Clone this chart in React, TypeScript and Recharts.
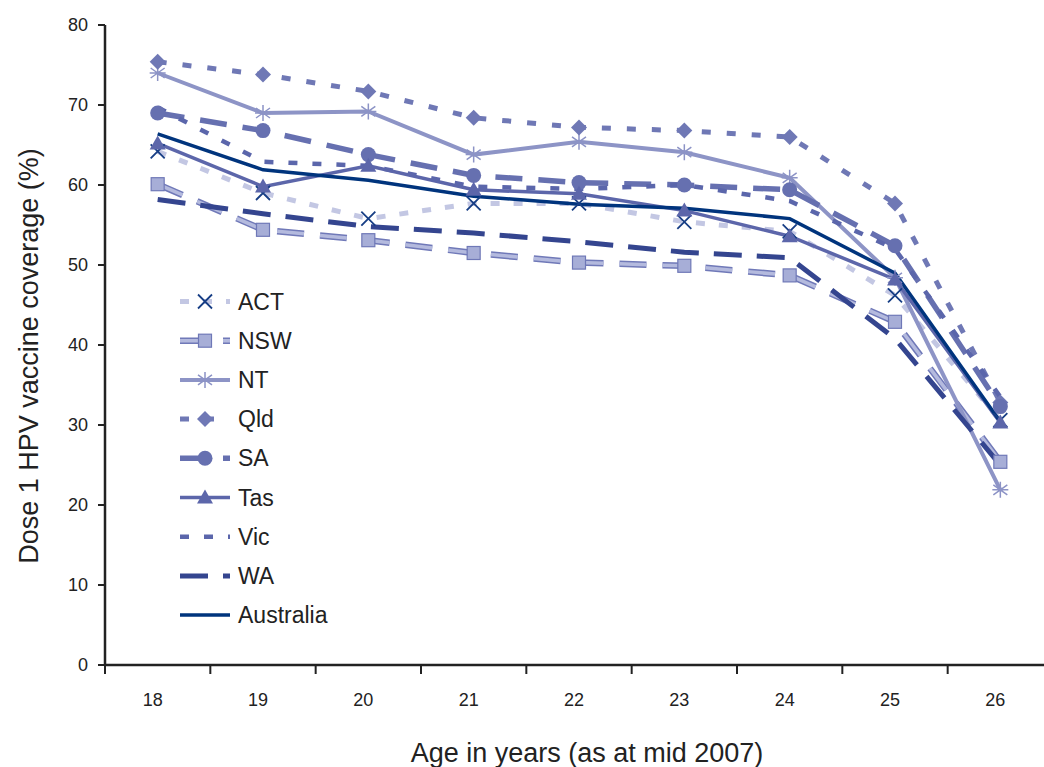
import React from "react";
import { ComposedChart, Line, XAxis, YAxis, Legend } from "recharts";

const AGES = [18, 19, 20, 21, 22, 23, 24, 25, 26];
const EDGES = [17.5, 18.5, 19.5, 20.5, 21.5, 22.5, 23.5, 24.5, 25.5, 26.5];
const Y_TICKS = [0, 10, 20, 30, 40, 50, 60, 70, 80];

const ACT = [64.2, 59.0, 55.8, 57.7, 57.7, 55.4, 54.2, 46.2, 30.6];
const NSW = [60.1, 54.4, 53.1, 51.5, 50.3, 49.9, 48.7, 42.9, 25.4];
const NT = [74.0, 69.0, 69.2, 63.8, 65.4, 64.1, 60.9, 48.4, 21.9];
const QLD = [75.4, 73.8, 71.7, 68.4, 67.2, 66.8, 66.0, 57.7, 32.8];
const SA = [69.0, 66.8, 63.8, 61.2, 60.3, 60.0, 59.4, 52.4, 32.3];
const TAS = [65.2, 59.8, 62.4, 59.4, 58.9, 56.8, 53.6, 48.2, 30.3];
const VIC = [69.7, 62.9, 62.4, 59.8, 59.5, 60.0, 58.0, 52.0, 33.5];
const WA = [58.2, 56.4, 54.8, 54.0, 52.9, 51.6, 50.9, 40.8, 25.0];
const AUSTRALIA = [66.4, 61.9, 60.6, 58.6, 57.6, 57.1, 55.8, 49.0, 30.4];

const data = AGES.map((age, i) => ({
  age,
  ACT: ACT[i],
  NSW: NSW[i],
  NT: NT[i],
  Qld: QLD[i],
  SA: SA[i],
  Tas: TAS[i],
  Vic: VIC[i],
  WA: WA[i],
  Australia: AUSTRALIA[i],
}));

// labels sit on whole ages, tick marks on the half-year edges between them
const X_TICKS = [...EDGES, ...AGES].sort((a, b) => a - b);

const FONT = "'Liberation Sans', Arial, Helvetica, sans-serif";
const INK = "#222";

// marker shapes, drawn around (cx, cy)
type Mk = (cx: number, cy: number, k?: React.Key) => React.ReactElement;

const crossMk: Mk = (cx, cy, k) => (
  <path key={k} d={`M${cx - 7},${cy - 7}L${cx + 7},${cy + 7}M${cx + 7},${cy - 7}L${cx - 7},${cy + 7}`} stroke="#173e85" strokeWidth={1.8} fill="none" />
);
const squareMk: Mk = (cx, cy, k) => (
  <rect key={k} x={cx - 6.5} y={cy - 6.5} width={13} height={13} fill="#a7aed7" stroke="#6f78b7" strokeWidth={1.2} />
);
const starMk: Mk = (cx, cy, k) => (
  <path key={k} d={`M${cx},${cy - 8}L${cx},${cy + 8}M${cx - 7},${cy - 5}L${cx + 7},${cy + 5}M${cx + 7},${cy - 5}L${cx - 7},${cy + 5}M${cx - 8},${cy}L${cx + 8},${cy}`} stroke="#8c93c6" strokeWidth={1.5} fill="none" />
);
const diamondMk: Mk = (cx, cy, k) => (
  <path key={k} d={`M${cx},${cy - 8}L${cx + 8},${cy}L${cx},${cy + 8}L${cx - 8},${cy}Z`} fill="#6f78b5" />
);
const circleMk: Mk = (cx, cy, k) => <circle key={k} cx={cx} cy={cy} r={7.5} fill="#6670b0" />;
const triMk: Mk = (cx, cy, k) => (
  <path key={k} d={`M${cx},${cy - 8}L${cx + 8},${cy + 6}L${cx - 8},${cy + 6}Z`} fill="#5c66aa" />
);

type S = { key: string; color: string; width: number; dash?: string; mk?: Mk; edge?: string };

const SERIES: S[] = [
  { key: "ACT", color: "#c3c7e3", width: 5, dash: "9 14", mk: crossMk },
  { key: "NSW", color: "#b4bade", width: 3.5, dash: "27 16", mk: squareMk, edge: "#7079b8" },
  { key: "NT", color: "#8d94c6", width: 4, mk: starMk },
  { key: "Qld", color: "#6f78b5", width: 5, dash: "9 16", mk: diamondMk },
  { key: "SA", color: "#6670b0", width: 5.5, dash: "27 16", mk: circleMk },
  { key: "Tas", color: "#5c66aa", width: 3.5, mk: triMk },
  { key: "Vic", color: "#5b66ab", width: 4.5, dash: "9 15" },
  { key: "WA", color: "#34458f", width: 5, dash: "28 15" },
  { key: "Australia", color: "#00347d", width: 3.5 },
];

function dotFor(mk?: Mk) {
  if (!mk) return false;
  return (p: any) => mk(p.cx, p.cy, p.index);
}

function XTick(p: any) {
  const v = p.payload.value;
  if (Number.isInteger(v)) {
    return (
      <text x={p.x - 5} y={p.y + 28} dy="0.71em" textAnchor="middle" fontSize={18} fill={INK} fontFamily={FONT}>
        {v}
      </text>
    );
  }
  return <line x1={p.x} x2={p.x} y1={p.y} y2={p.y + 9} stroke={INK} strokeWidth={2} />;
}

function LegendBox() {
  return (
    <svg width={190} height={360} style={{ display: "block", fontFamily: FONT }}>
      {SERIES.map((s, i) => {
        const y = 21.5 + i * 39.2;
        return (
          <g key={s.key}>
            {s.edge && <line x1={10} x2={60} y1={y} y2={y} stroke={s.edge} strokeWidth={s.width + 3} strokeDasharray={s.dash} />}
            <line x1={10} x2={60} y1={y} y2={y} stroke={s.color} strokeWidth={s.width} strokeDasharray={s.dash} />
            {s.mk && s.mk(35, y)}
            <text x={68} y={y} dominantBaseline="central" fontSize={23} fill={INK}>
              {s.key}
            </text>
          </g>
        );
      })}
    </svg>
  );
}

export default function App() {
  return (
    <div style={{ position: "absolute", left: 0, top: 0, width: 1044, height: 767, overflow: "hidden", background: "#fff", fontFamily: FONT }}>
      <ComposedChart width={1060} height={767} data={data} margin={{ top: 25, right: 7, left: 0, bottom: 0 }}>
        <XAxis
          type="number"
          dataKey="age"
          domain={[17.5, 26.5]}
          ticks={X_TICKS}
          interval={0}
          height={102}
          tickLine={false}
          tickSize={0}
          tickMargin={0}
          axisLine={{ stroke: INK, strokeWidth: 2.5 }}
          tick={<XTick />}
          label={(p: any) => {
            const vb = p.viewBox;
            return (
              <text x={vb.x + vb.width / 2 + 8} y={vb.y + vb.height - 5} textAnchor="middle" fontSize={27} fill={INK} fontFamily={FONT}>
                Age in years (as at mid 2007)
              </text>
            );
          }}
        />
        <YAxis
          type="number"
          domain={[0, 80]}
          ticks={Y_TICKS}
          interval={0}
          width={105}
          tickSize={7}
          tickMargin={10}
          axisLine={{ stroke: INK, strokeWidth: 2.5 }}
          tickLine={{ stroke: INK, strokeWidth: 2 }}
          tick={{ fontSize: 18, fill: INK, fontFamily: FONT }}
          label={(p: any) => {
            const vb = p.viewBox;
            const x = vb.x + 29;
            const y = vb.y + vb.height / 2 + 11;
            return (
              <text x={x} y={y} transform={`rotate(-90, ${x}, ${y})`} textAnchor="middle" dominantBaseline="central" fontSize={27} fill={INK} fontFamily={FONT}>
                Dose 1 HPV vaccine coverage (%)
              </text>
            );
          }}
        />
        <Legend
          layout="vertical"
          align="center"
          verticalAlign="middle"
          wrapperStyle={{ left: 170, top: 280, width: 190 }}
          content={() => <LegendBox />}
        />
        {SERIES.map((s) =>
          s.edge ? (
            <Line
              key={s.key + "-edge"}
              dataKey={s.key}
              type="linear"
              stroke={s.edge}
              strokeWidth={s.width + 3}
              strokeDasharray={s.dash}
              dot={false}
              activeDot={false}
              legendType="none"
              isAnimationActive={false}
            />
          ) : null,
        )}
        {SERIES.map((s) => (
          <Line
            key={s.key}
            dataKey={s.key}
            type="linear"
            stroke={s.color}
            strokeWidth={s.width}
            strokeDasharray={s.dash}
            dot={dotFor(s.mk)}
            activeDot={false}
            isAnimationActive={false}
          />
        ))}
      </ComposedChart>
    </div>
  );
}
